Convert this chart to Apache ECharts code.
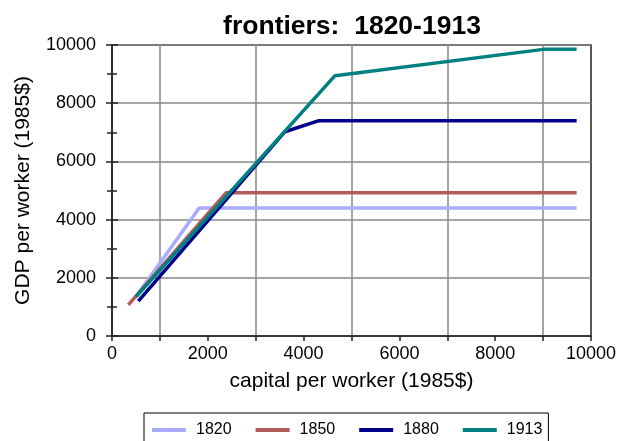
<!DOCTYPE html>
<html>
<head>
<meta charset="utf-8">
<script src="https://cdn.jsdelivr.net/npm/echarts@6/dist/echarts.min.js"></script>
<style>
  html, body { margin: 0; padding: 0; background: #fff; }
  #chart { width: 620px; height: 441px; }
</style>
</head>
<body>
<div id="chart"></div>
<script>
// frontier points [capital per worker, GDP per worker]
const years = ["1820", "1850", "1880", "1913"];
const frontier1820 = [[500, 1350], [1820, 4400], [9700, 4400]];
const frontier1850 = [[340, 1070], [2380, 4920], [9700, 4920]];
const frontier1880 = [[550, 1200], [3610, 7020], [4320, 7400], [9700, 7400]];
const frontier1913 = [[500, 1350], [4655, 8945], [9005, 9850], [9700, 9850]];
const colors = ["#aaaaff", "#b35a5a", "#00008b", "#008080"];

const font = "Liberation Sans, Arial, sans-serif";
const chart = echarts.init(document.getElementById("chart"));

const plain = (v) => String(v);

const makeSeries = (name, data, color) => ({
  name: name,
  type: "line",
  data: data,
  symbol: "none",
  xAxisIndex: 0,
  yAxisIndex: 0,
  lineStyle: { color: color, width: 3.5 },
  itemStyle: { color: color }
});

chart.setOption({
  animation: false,
  title: {
    text: "frontiers:  1820-1913",
    left: 347,
    textAlign: "center",
    top: 8,
    textStyle: { fontFamily: font, fontSize: 26.5, fontWeight: "bold", color: "#000" }
  },
  grid: {
    left: 112, right: 29, top: 45, bottom: 105,
    show: true, borderColor: "#222", borderWidth: 1.5
  },
  legend: {
    data: years,
    left: 144,
    top: 413,
    padding: [9, 6, 12, 8],
    borderColor: "#000",
    borderWidth: 1,
    itemGap: 24,
    itemWidth: 34,
    itemHeight: 4,
    icon: "rect",
    textStyle: { fontFamily: font, fontSize: 16, color: "#000", padding: [0, 0, 0, 5] }
  },
  xAxis: {
    type: "value",
    min: 0, max: 10000, interval: 2000,
    name: "capital per worker (1985$)",
    nameLocation: "middle",
    nameGap: 35,
    nameTextStyle: { fontFamily: font, fontSize: 21, color: "#000" },
    axisLine: { onZero: false, lineStyle: { color: "#222", width: 1.5 } },
    axisTick: { length: 5, lineStyle: { color: "#222", width: 1.5 } },
    minorTick: { show: true, splitNumber: 2, length: 5, lineStyle: { color: "#222", width: 1.5 } },
    axisLabel: { fontFamily: font, fontSize: 18, color: "#000", margin: 9, formatter: plain },
    splitLine: { show: false },
    minorSplitLine: { show: true, lineStyle: { color: "#888", width: 1.5 } }
  },
  yAxis: [{
    type: "value",
    min: 0, max: 10000, interval: 2000,
    name: "GDP per worker (1985$)",
    nameLocation: "middle",
    nameGap: 78,
    nameTextStyle: { fontFamily: font, fontSize: 21, color: "#000" },
    axisLine: { onZero: false, lineStyle: { color: "#222", width: 1.5 } },
    axisTick: { length: 6, lineStyle: { color: "#222", width: 1.5 } },
    minorTick: { show: true, splitNumber: 2, length: 5, lineStyle: { color: "#222", width: 1.5 } },
    axisLabel: { fontFamily: font, fontSize: 18, color: "#000", margin: 16, formatter: plain },
    splitLine: { show: true, lineStyle: { color: "#888", width: 1.5 } }
  }, {
    // second copy of the y axis so the ticks cross the line
    type: "value",
    position: "left",
    min: 0, max: 10000, interval: 2000,
    axisLine: { show: false },
    axisTick: { inside: true, length: 6, lineStyle: { color: "#222", width: 1.5 } },
    minorTick: { show: true, splitNumber: 2, length: 5, lineStyle: { color: "#222", width: 1.5 } },
    axisLabel: { show: false },
    splitLine: { show: false }
  }],
  series: [
    makeSeries(years[0], frontier1820, colors[0]),
    makeSeries(years[1], frontier1850, colors[1]),
    makeSeries(years[2], frontier1880, colors[2]),
    makeSeries(years[3], frontier1913, colors[3])
  ]
});
</script>
</body>
</html>
